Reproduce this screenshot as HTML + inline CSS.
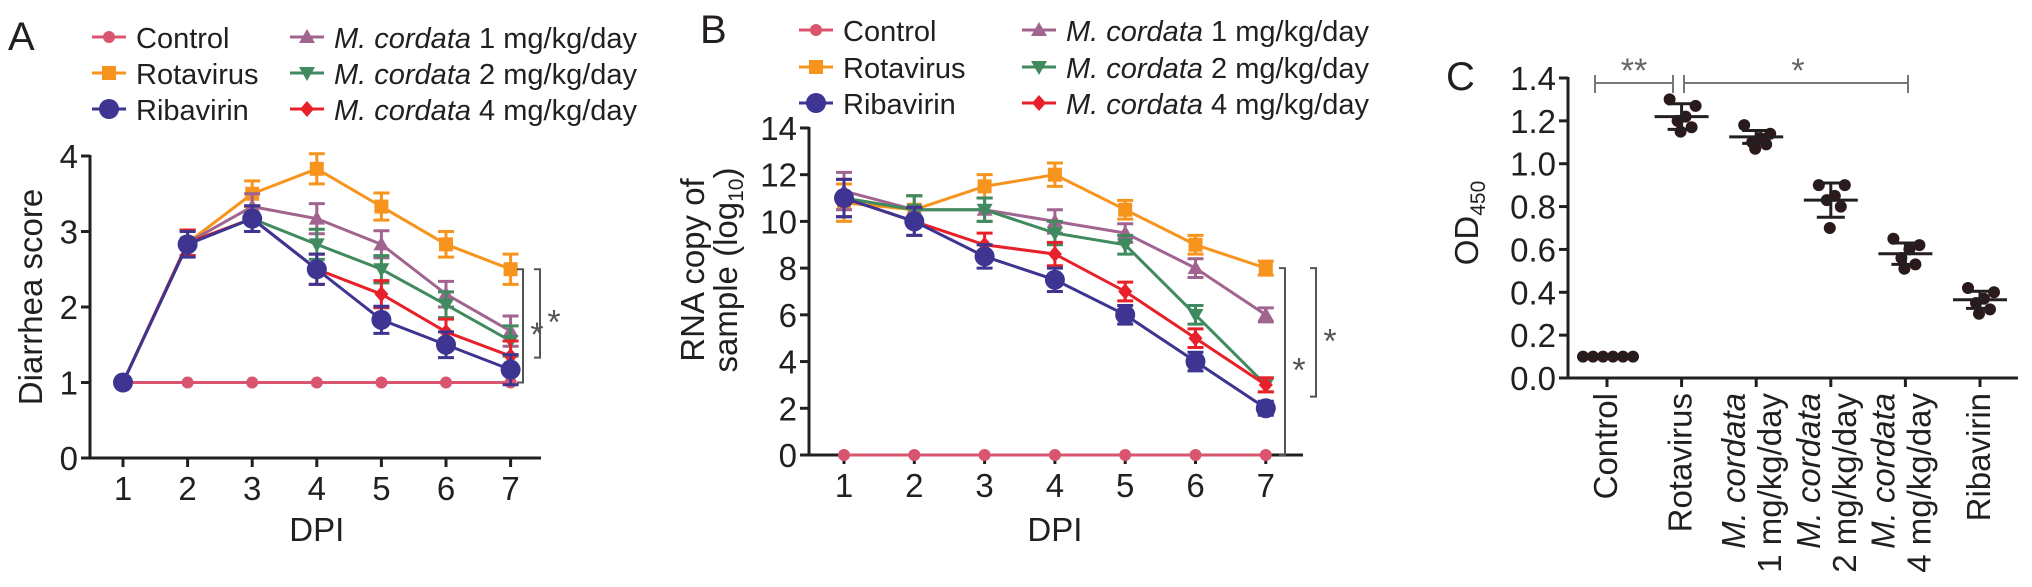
<!DOCTYPE html>
<html><head><meta charset="utf-8"><style>
html,body{margin:0;padding:0;background:#fff;}
svg{display:block;font-family:"Liberation Sans",sans-serif;}
</style></head><body>
<svg id="fig" width="2032" height="587" viewBox="0 0 2032 587" xmlns="http://www.w3.org/2000/svg"></svg>
<script>
// ---- data ----
const dpi = [1,2,3,4,5,6,7];
const seriesNames = ["Control","Rotavirus","Ribavirin","M1","M2","M4"];
// Panel A (diarrhea score)
const aControl   = [1,1,1,1,1,1,1];
const aRotavirus = [1,2.85,3.5,3.83,3.33,2.83,2.5];
const aRibavirin = [1,2.83,3.17,2.5,1.83,1.5,1.17];
const aM1        = [1,2.85,3.33,3.17,2.83,2.17,1.68];
const aM2        = [1,2.85,3.17,2.83,2.5,2.03,1.55];
const aM4        = [1,2.85,3.17,2.5,2.17,1.67,1.35];
const aErr       = [0.17,0.17,0.17,0.2,0.18,0.17,0.2];
// Panel B (RNA copy log10)
const bControl   = [0,0,0,0,0,0,0];
const bRotavirus = [10.8,10.5,11.5,12,10.5,9,8];
const bRibavirin = [11,10,8.5,7.5,6,4,2];
const bM1        = [11.3,10.5,10.5,10,9.5,8,6];
const bM2        = [11,10.5,10.5,9.5,9,6,3];
const bM4        = [11,10,9,8.6,7,5,3];
const bErr       = [0.8,0.6,0.5,0.5,0.4,0.4,0.3];
// Panel C (OD450)
const cCategories = ["Control","Rotavirus","M. cordata|1 mg/kg/day","M. cordata|2 mg/kg/day","M. cordata|4 mg/kg/day","Ribavirin"];
const cMeans = [0.1,1.22,1.125,0.83,0.58,0.365];
const cSD    = [0,0.06,0.03,0.08,0.05,0.04];
const cPoints = [
  [0.1,0.1,0.1,0.1,0.1,0.1],
  [1.3,1.27,1.22,1.2,1.17,1.15],
  [1.18,1.14,1.12,1.1,1.09,1.07],
  [0.9,0.9,0.85,0.83,0.8,0.7],
  [0.65,0.62,0.6,0.56,0.53,0.51],
  [0.42,0.4,0.37,0.35,0.32,0.3]
];
const aTicks = [0,1,2,3,4];
const bTicks = [0,2,4,6,8,10,12,14];
const cTicks = [0,0.2,0.4,0.6,0.8,1.0,1.2,1.4];

const colors = {Control:"#d9546e",Rotavirus:"#f7941d",Ribavirin:"#3d3591",M1:"#a0648f",M2:"#3f8a5e",M4:"#e8202a"};
const markers = {Control:"circle",Rotavirus:"square",Ribavirin:"bigcircle",M1:"tri",M2:"tridown",M4:"diamond"};

const NS="http://www.w3.org/2000/svg";
const svg=document.getElementById('fig');
const TF=33;
function el(tag,attrs,parent){const e=document.createElementNS(NS,tag);for(const k in attrs)e.setAttribute(k,attrs[k]);(parent||svg).appendChild(e);return e;}
function txt(s,x,y,size,parent,anchor,extra){const t=el('text',Object.assign({x:x,y:y,'font-size':size,fill:'#231f20','text-anchor':anchor||'start'},extra||{}),parent);t.textContent=s;return t;}
function marker(g,type,x,y,c){
  if(type==="circle") return el('circle',{cx:x,cy:y,r:6,fill:c},g);
  if(type==="bigcircle") return el('circle',{cx:x,cy:y,r:10,fill:c},g);
  if(type==="square") return el('rect',{x:x-7,y:y-7,width:14,height:14,fill:c},g);
  if(type==="tri") return el('polygon',{points:`${x},${y-8} ${x-8},${y+6} ${x+8},${y+6}`,fill:c},g);
  if(type==="tridown") return el('polygon',{points:`${x},${y+8} ${x-8},${y-6} ${x+8},${y-6}`,fill:c},g);
  return el('polygon',{points:`${x},${y-8} ${x+7},${y} ${x},${y+8} ${x-7},${y}`,fill:c},g);
}
function legend(g,x0,x1,ys){
  const items=[["Control",0,0],["Rotavirus",0,1],["Ribavirin",0,2],["M1",1,0],["M2",1,1],["M4",1,2]];
  const dose={M1:"1",M2:"2",M4:"4"};
  items.forEach(([k,col,row])=>{
    const lx=col?x1:x0, y=ys[row];
    const li=el('g',{},g);
    
    
    el('line',{x1:lx,y1:y,x2:lx+34,y2:y,stroke:colors[k],'stroke-width':3},li);
    marker(li,markers[k],lx+17,y,colors[k]);
    const t=txt('',lx+44,y+11,29,li);
    if(col){const i=el('tspan',{'font-style':'italic'},t);i.textContent="M. cordata";const r=el('tspan',{},t);r.textContent=" "+dose[k]+" mg/kg/day";}
    else t.textContent=k;
  });
}
function linePanel(cfg){
  const g=el('g',{});
  
  
  const X=v=>cfg.x1+(v-1)*cfg.step, Y=v=>cfg.y0-(v-cfg.vmin)*cfg.unit;
  el('line',{x1:cfg.ax,y1:Y(cfg.ticks[cfg.ticks.length-1])-1,x2:cfg.ax,y2:cfg.y0+1.5,stroke:'#231f20','stroke-width':3},g);
  el('line',{x1:cfg.ax-8,y1:cfg.y0,x2:cfg.xend,y2:cfg.y0,stroke:'#231f20','stroke-width':3},g);
  cfg.ticks.forEach(v=>{el('line',{x1:cfg.ax-9,y1:Y(v),x2:cfg.ax,y2:Y(v),stroke:'#231f20','stroke-width':3},g);
    const t=txt(String(v),cfg.ax-12,Y(v)+12,TF,g,'end');});
  dpi.forEach(d=>{el('line',{x1:X(d),y1:cfg.y0,x2:X(d),y2:cfg.y0+9,stroke:'#231f20','stroke-width':3},g);
    const t=txt(String(d),X(d),cfg.y0+42,TF,g,'middle');});
  const xt=txt('DPI',X(4),541,TF,g,'middle');
  const order=["Control","Rotavirus","M1","M2","M4","Ribavirin"];
  order.forEach(k=>{
    const vals=cfg.data[k];const c=colors[k];
    const sg=el('g',{},g);
    
    
    el('polyline',{points:vals.map((v,i)=>X(dpi[i])+','+Y(v)).join(' '),fill:'none',stroke:c,'stroke-width':3},sg);
    vals.forEach((v,i)=>{
      if(k!=="Control"&&!(cfg.noErrFirst&&i===0)){const e=cfg.err[i];
        el('path',{d:`M${X(dpi[i])},${Y(v+e)}V${Y(v-e)}M${X(dpi[i])-8},${Y(v+e)}h16M${X(dpi[i])-8},${Y(v-e)}h16`,stroke:c,'stroke-width':3,fill:'none'},sg);}
      const m=marker(sg,markers[k],X(dpi[i]),Y(v),c);
      
    });
  });
  cfg.sig.forEach(s=>{
    el('path',{d:`M${s.x-6},${Y(s.top)}H${s.x}V${Y(s.bot)}H${s.x-6}`,stroke:'#555','stroke-width':2,fill:'none'},g);
    const t=txt('*',s.x+14,Y((s.top+s.bot)/2)+20,34,g,'middle',{fill:'#555'});
  });
  return g;
}
// Panel A
const gA=linePanel({name:'panel-a-diarrhea-score',ax:90,x1:123,step:64.6,y0:458,unit:75.5,vmin:0,xend:541,ticks:aTicks,noErrFirst:true,
  data:{Control:aControl,Rotavirus:aRotavirus,Ribavirin:aRibavirin,M1:aM1,M2:aM2,M4:aM4},err:aErr,
  sig:[{x:523,top:2.5,bot:1},{x:540,top:2.5,bot:1.33}]});
txt('A',8,50,40,gA);
legend(gA,92,290,[37,73,109]);
const yA=txt('Diarrhea score',0,0,TF,gA,'middle',{transform:'translate(42,297) rotate(-90)'});

// Panel B
const gB=linePanel({name:'panel-b-rna-copy',ax:809,x1:844,step:70.3,y0:455,unit:23.36,vmin:0,xend:1303,ticks:bTicks,
  data:{Control:bControl,Rotavirus:bRotavirus,Ribavirin:bRibavirin,M1:bM1,M2:bM2,M4:bM4},err:bErr,
  sig:[{x:1285,top:8,bot:0},{x:1316,top:8,bot:2.5}]});
txt('B',700,43,40,gB);
legend(gB,799,1022,[30,67,103]);
const yB1=txt('RNA copy of',0,0,TF,gB,'middle',{transform:'translate(704,270) rotate(-90)'});

const yB2=txt('sample (log',0,0,TF,gB,'middle',{transform:'translate(737,270) rotate(-90)'});
const sub=el('tspan',{'font-size':21,dy:6},yB2);sub.textContent='10';
const cl=el('tspan',{dy:-6},yB2);cl.textContent=')';

// Panel C
(function(){
  const g=el('g',{});
  
  
  const ax=1568,y0=378,unit=300/1.4;
  const Y=v=>y0-v*unit;
  const xs0=1607,xstep=74.6;const X=i=>xs0+i*xstep;
  el('line',{x1:ax,y1:Y(1.4)-1,x2:ax,y2:y0+1.5,stroke:'#231f20','stroke-width':3},g);
  el('line',{x1:ax-8,y1:y0,x2:2018,y2:y0,stroke:'#231f20','stroke-width':3},g);
  cTicks.forEach(v=>{el('line',{x1:ax-9,y1:Y(v),x2:ax,y2:Y(v),stroke:'#231f20','stroke-width':3},g);
    const t=txt(v.toFixed(1),ax-12,Y(v)+12,TF,g,'end');});
  cCategories.forEach((c,i)=>{
    el('line',{x1:X(i),y1:y0,x2:X(i),y2:y0+9,stroke:'#231f20','stroke-width':3},g);
    const parts=c.split('|');
    if(parts.length===1){const t=txt(c,0,0,TF,g,'end',{transform:`translate(${X(i)+10},${y0+15}) rotate(-90)`});}
    else{
      const t1=txt(parts[0],0,0,TF,g,'end',{transform:`translate(${X(i)-11},${y0+15}) rotate(-90)`,'font-style':'italic'});
      txt(parts[1],0,0,TF,g,'end',{transform:`translate(${X(i)+25},${y0+15}) rotate(-90)`});
    }
    const sg=el('g',{},g);
    
    
    const jit=i===0?[-24,-14,-4,6,16,26]:[-12,14,4,-4,10,-1];
    cPoints[i].forEach((v,j)=>{const p=el('circle',{cx:X(i)+jit[j],cy:Y(v),r:6,fill:'#2a1a1c'},sg);});
    el('line',{x1:X(i)-27,y1:Y(cMeans[i]),x2:X(i)+27,y2:Y(cMeans[i]),stroke:'#231f20','stroke-width':3},sg);
    if(cSD[i]>0){el('path',{d:`M${X(i)},${Y(cMeans[i]+cSD[i])}V${Y(cMeans[i]-cSD[i])}M${X(i)-14},${Y(cMeans[i]+cSD[i])}h28M${X(i)-14},${Y(cMeans[i]-cSD[i])}h28`,stroke:'#231f20','stroke-width':3,fill:'none'},sg);}
  });
  el('path',{d:'M1595,75V93M1595,83H1673M1673,75V93',stroke:'#777','stroke-width':2,fill:'none'},g);
  el('path',{d:'M1684,75V93M1684,83H1908M1908,75V93',stroke:'#777','stroke-width':2,fill:'none'},g);
  txt('**',1634,82,34,g,'middle',{fill:'#666'});
  txt('*',1798,82,34,g,'middle',{fill:'#666'});
  txt('C',1446,90,40,g);
  const yt=txt('OD',0,0,TF,g,'middle',{transform:'translate(1478,223) rotate(-90)'});
  
  const s=el('tspan',{'font-size':21,dy:7},yt);s.textContent='450';
})();
</script>
</body></html>
